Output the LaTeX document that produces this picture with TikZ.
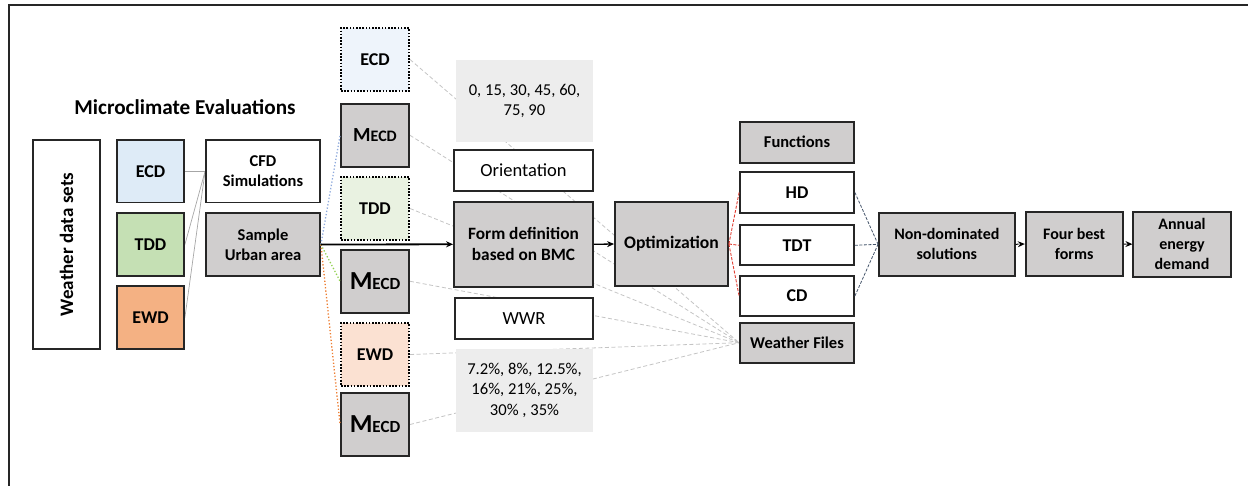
\documentclass[tikz,border=0pt]{standalone}
\usepackage{fontspec}
\setmainfont{Carlito}
\usetikzlibrary{arrows.meta,backgrounds}

\definecolor{boxgray}{HTML}{D0CECE}
\definecolor{ecdblue}{HTML}{DEEBF7}
\definecolor{tddgreen}{HTML}{C5E0B4}
\definecolor{ewdorange}{HTML}{F4B183}
\definecolor{paleblue}{HTML}{EEF4FB}
\definecolor{palegreen}{HTML}{E9F2E1}
\definecolor{paleorange}{HTML}{FBE1D2}
\definecolor{valgray}{HTML}{EDEDED}
\definecolor{edgecol}{HTML}{262626}
\definecolor{slate}{HTML}{44546A}
\definecolor{linkgray}{HTML}{C4C4C4}
\definecolor{feedgray}{HTML}{A6A6A6}
\definecolor{dotblue}{HTML}{8FAADC}
\definecolor{dotgreen}{HTML}{92D050}
\definecolor{dotorange}{HTML}{ED7D31}
\definecolor{linkred}{HTML}{E03C31}

\newcommand\setfs[2]{\fontsize{#1}{#2}\selectfont}

\tikzset{
  box/.style={draw=edgecol, line width=1.8pt, inner sep=0pt, align=center,
    font=\bfseries\setfs{16.5}{20}},
  bigbox/.style={box, font=\bfseries\setfs{18}{21}},
  plainbox/.style={draw=edgecol, line width=1.8pt, inner sep=0pt, align=center,
    fill=white, font=\setfs{18.5}{21}},
  dotbox/.style={bigbox, draw=black, line width=2pt, dash pattern=on 1.6pt off 1.6pt},
  valbox/.style={fill=valgray, inner sep=0pt, align=center, font=\setfs{16.6}{20.3}},
  cw/.style={minimum width=67pt, minimum height=62.5pt},
  sq/.style={minimum width=68pt, minimum height=63pt},
  feed/.style={feedgray, line width=0.7pt},
  link/.style={linkgray, line width=0.8pt, dash pattern=on 4pt off 2.5pt},
  tip/.style={-{Stealth[length=7pt,width=6pt]}},
}

\begin{document}
\begin{tikzpicture}[x=1pt, y=-1pt]
\useasboundingbox (0,0) rectangle (1248,486);

% frame
\draw[line width=2pt, edgecol] (9,486) -- (9,5.5) -- (1248,5.5);

% title
\node[font=\bfseries\setfs{21.2}{24}] (title) at (185,107) {Microclimate Evaluations};

% first columns
\node[box, fill=white, minimum width=67pt, minimum height=209pt] (wds) at (66.5,244.5)
  {\rotatebox{90}{\setfs{19}{22}Weather data sets}};
\node[bigbox, cw, fill=ecdblue] (ecd) at (150.5,171.25) {ECD};
\node[bigbox, cw, fill=tddgreen] (tdd) at (150.5,244.5) {TDD};
\node[bigbox, cw, fill=ewdorange] (ewd) at (150.5,317.5) {EWD};
\node[box, fill=white, minimum width=114pt, minimum height=62.5pt] (cfd) at (263,171.25) {CFD\\Simulations};
\node[box, fill=boxgray, minimum width=114pt, minimum height=62.5pt] (sua) at (263,244.5) {Sample\\Urban area};

% microclimate variants
\node[dotbox, sq, fill=paleblue] (ecd2) at (375,59.5) {ECD};
\node[box, sq, fill=boxgray] (m1) at (375,135.25) {{\setfs{20}{22}M}{\setfs{16}{18}ECD}};
\node[dotbox, sq, fill=palegreen] (tdd2) at (375,208.5) {TDD};
\node[box, sq, fill=boxgray] (m2) at (375,281.25) {{\setfs{26}{28}M}{\setfs{17}{18}ECD}};
\node[dotbox, sq, fill=paleorange] (ewd2) at (375,354.5) {EWD};
\node[box, sq, fill=boxgray] (m3) at (375,424.5) {{\setfs{26}{28}M}{\setfs{17}{18}ECD}};

% form parameters
\node[valbox, minimum width=137pt, minimum height=82pt] (ang) at (524.5,101) {0, 15, 30, 45, 60,\\75, 90};
\node[plainbox, minimum width=139pt, minimum height=40.7pt] (orient) at (523.5,170.3) {Orientation};
\node[box, fill=boxgray, minimum width=139pt, minimum height=84.7pt, font=\bfseries\setfs{17.3}{21}] (form) at (523.5,244.3) {Form definition\\based on BMC};
\node[plainbox, minimum width=138pt, minimum height=41pt] (wwr) at (524,318.5) {WWR};
\node[valbox, minimum width=137pt, minimum height=82.7pt] (pct) at (524.5,390.3) {7.2\%, 8\%, 12.5\%,\\16\%, 21\%, 25\%,\\30\% , 35\%};

% optimisation
\node[box, fill=boxgray, minimum width=113pt, minimum height=84pt, font=\bfseries\setfs{17.6}{21}] (opt) at (671.5,244) {Optimization};
\node[box, fill=boxgray, minimum width=114pt, minimum height=41pt] (func) at (797,142.2) {Functions};
\node[bigbox, fill=white, minimum width=114pt, minimum height=40.4pt] (hd) at (797,192.5) {HD};
\node[bigbox, fill=white, minimum width=114pt, minimum height=40pt] (tdt) at (797,245.3) {TDT};
\node[bigbox, fill=white, minimum width=114pt, minimum height=40pt] (cd) at (797,296) {CD};
\node[box, fill=boxgray, minimum width=114pt, minimum height=40pt] (wf) at (797,342.7) {Weather Files};

% results
\node[box, fill=boxgray, minimum width=135.7pt, minimum height=63.3pt, font=\bfseries\setfs{16}{20}] (nd) at (946.8,244.3) {Non-dominated\\solutions};
\node[box, fill=boxgray, minimum width=97pt, minimum height=64.3pt, font=\bfseries\setfs{16}{20}] (fbf) at (1074.2,244) {Four best\\forms};
\node[box, fill=boxgray, minimum width=97.4pt, minimum height=65pt, font=\bfseries\setfs{16}{20}] (aed) at (1182,244.2) {Annual\\energy\\demand};

% connectors behind the boxes
\begin{scope}[on background layer]
  \draw[feed] (ecd.east) -- (cfd.west);
  \draw[feed] (tdd.east) -- (cfd.west);
  \draw[feed] (ewd.east) -- (cfd.west);
  \foreach \src in {ecd2,m1,tdd2,m2,ewd2,m3}
    \draw[link] (\src.east) -- (wf.west);
\end{scope}

\draw[dotblue, line width=1.3pt, dotted] (sua.east) -- (m1.west);
\draw[dotgreen, line width=1.3pt, dotted] (sua.east) -- (m2.west);
\draw[dotorange, line width=1.3pt, dotted] (sua.east) -- (m3.west);
\draw[tip, line width=1.8pt, black] (sua.east) -- (form.west);
\draw[tip, line width=1.3pt, black] (form.east) -- (opt.west);

\foreach \f in {hd,tdt,cd}
  \draw[linkred, line width=0.9pt, dash pattern=on 3pt off 1.5pt] (opt.east) -- (\f.west);
\foreach \f in {hd,tdt,cd}
  \draw[slate, line width=0.8pt, dash pattern=on 3pt off 1.5pt] (\f.east) -- (nd.west);

\draw[tip, line width=1pt, dash pattern=on 3pt off 2pt] (nd.east) -- (fbf.west);
\draw[tip, line width=1pt, dash pattern=on 3pt off 2pt] (fbf.east) -- (aed.west);
\end{tikzpicture}
\end{document}
